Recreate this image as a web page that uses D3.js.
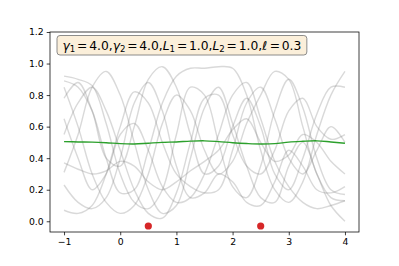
<!DOCTYPE html>
<html>
<head>
<meta charset="utf-8">
<script src="https://cdn.jsdelivr.net/npm/d3@7"></script>
<style>
  body { margin: 0; background: #fff; }
  svg { font-family: "DejaVu Sans", sans-serif; }
</style>
</head>
<body>
<script>
// sample grid and data
let xGrid = [-1, -0.75, -0.5, -0.25, 0, 0.25, 0.5, 0.75, 1, 1.25, 1.5, 1.75, 2, 2.25, 2.5, 2.75, 3, 3.25, 3.5, 3.75, 4];

let sample1 = [0.92, 0.90, 0.86, 0.62, 0.30, 0.12, 0.08, 0.20, 0.55, 0.85, 0.80, 0.50, 0.22, 0.15, 0.35, 0.70, 0.90, 0.72, 0.40, 0.20, 0.17];
let sample2 = [0.89, 0.85, 0.70, 0.40, 0.18, 0.20, 0.45, 0.75, 0.92, 0.97, 0.97, 0.98, 0.97, 0.80, 0.45, 0.20, 0.12, 0.25, 0.55, 0.80, 0.95];
let sample3 = [0.85, 0.60, 0.30, 0.12, 0.05, 0.10, 0.30, 0.62, 0.80, 0.70, 0.45, 0.30, 0.38, 0.62, 0.80, 0.95, 0.90, 0.60, 0.30, 0.15, 0.13];
let sample4 = [0.78, 0.88, 0.70, 0.40, 0.35, 0.60, 0.90, 0.98, 0.85, 0.55, 0.30, 0.35, 0.60, 0.78, 0.60, 0.30, 0.20, 0.40, 0.68, 0.85, 0.85];
let sample5 = [0.37, 0.33, 0.30, 0.32, 0.38, 0.35, 0.25, 0.20, 0.25, 0.32, 0.38, 0.45, 0.58, 0.65, 0.50, 0.38, 0.42, 0.55, 0.50, 0.38, 0.30];
let sample6 = [0.31, 0.55, 0.85, 0.95, 0.80, 0.50, 0.20, 0.05, 0.10, 0.40, 0.72, 0.85, 0.62, 0.35, 0.15, 0.12, 0.35, 0.50, 0.30, 0.10, 0.00];
let sample7 = [0.23, 0.12, 0.08, 0.15, 0.40, 0.75, 0.88, 0.70, 0.35, 0.15, 0.18, 0.30, 0.25, 0.12, 0.10, 0.25, 0.45, 0.35, 0.20, 0.18, 0.22];
let sample8 = [0.07, 0.05, 0.10, 0.30, 0.60, 0.82, 0.75, 0.50, 0.30, 0.22, 0.18, 0.20, 0.45, 0.75, 0.85, 0.65, 0.40, 0.30, 0.45, 0.60, 0.50];
let sample9 = [0.55, 0.75, 0.85, 0.70, 0.45, 0.20, 0.05, 0.02, 0.18, 0.50, 0.78, 0.80, 0.55, 0.35, 0.30, 0.45, 0.70, 0.78, 0.60, 0.52, 0.55];
let sample10 = [0.65, 0.40, 0.20, 0.30, 0.55, 0.62, 0.45, 0.22, 0.12, 0.15, 0.30, 0.55, 0.80, 0.88, 0.65, 0.38, 0.22, 0.12, 0.08, 0.10, 0.13];
let samples = [sample1, sample2, sample3, sample4, sample5, sample6, sample7, sample8, sample9, sample10];

let meanLine = [0.505, 0.503, 0.502, 0.498, 0.492, 0.490, 0.495, 0.500, 0.503, 0.508, 0.510, 0.505, 0.498, 0.493, 0.490, 0.492, 0.502, 0.507, 0.510, 0.503, 0.495];

let obsX = [0.5, 2.5];
let obsY = [-0.03, -0.03];

let xTicks = [-1, 0, 1, 2, 3, 4];
let yTicks = [0.0, 0.2, 0.4, 0.6, 0.8, 1.0, 1.2];

let SvgWidth = 399;
let SvgHeight = 266;
let Margin = { Top: 32, Right: 40, Bottom: 34, Left: 50 };
let ChartWidth = SvgWidth - Margin.Left - Margin.Right;
let ChartHeight = SvgHeight - Margin.Top - Margin.Bottom;

let Svg = d3.select("body").append("svg")
    .attr("width", SvgWidth)
    .attr("height", SvgHeight);

let ChartGroup = Svg.append("g")
    .attr("transform", `translate(${Margin.Left},${Margin.Top})`);

let xScale = d3.scaleLinear().domain([-1.25, 4.25]).range([0, ChartWidth]);
let yScale = d3.scaleLinear().domain([-0.068, 1.2]).range([ChartHeight, 0]);

let line = d3.line()
    .x((d, i) => xScale(xGrid[i]))
    .y(d => yScale(d))
    .curve(d3.curveCatmullRom.alpha(0.5));

ChartGroup.append("defs").append("clipPath").attr("id", "clip")
    .append("rect").attr("width", ChartWidth).attr("height", ChartHeight);

let plot = ChartGroup.append("g").attr("clip-path", "url(#clip)");

plot.selectAll(".sample")
    .data(samples)
    .enter()
    .append("path")
    .attr("class", "sample")
    .attr("d", d => line(d))
    .attr("fill", "none")
    .attr("stroke", "#808080")
    .attr("stroke-opacity", 0.3)
    .attr("stroke-width", 1.4);

plot.append("path")
    .attr("d", line(meanLine))
    .attr("fill", "none")
    .attr("stroke", "#2ca02c")
    .attr("stroke-width", 1.4);

plot.selectAll(".obs")
    .data(obsX)
    .enter()
    .append("circle")
    .attr("cx", d => xScale(d))
    .attr("cy", (d, i) => yScale(obsY[i]))
    .attr("r", 3.6)
    .attr("fill", "#d62728");

// axes
let xAxis = d3.axisBottom(xScale).tickValues(xTicks).tickSize(3.3).tickPadding(3)
    .tickFormat(d => d < 0 ? "\u2212" + Math.abs(d) : d);
let yAxis = d3.axisLeft(yScale).tickValues(yTicks).tickSize(3.3).tickPadding(3)
    .tickFormat(d3.format(".1f"));

let gx = ChartGroup.append("g")
    .attr("transform", `translate(0,${ChartHeight})`)
    .call(xAxis);
let gy = ChartGroup.append("g").call(yAxis);

[gx, gy].forEach(g => {
    g.select(".domain").remove();
    g.selectAll("line").attr("stroke", "#000").attr("stroke-width", 0.75);
    g.selectAll("text").attr("font-size", "9.3px").attr("fill", "#000")
        .attr("font-family", "DejaVu Sans");
});

ChartGroup.append("rect")
    .attr("width", ChartWidth)
    .attr("height", ChartHeight)
    .attr("fill", "none")
    .attr("stroke", "#000")
    .attr("stroke-width", 0.75);

// parameter box
let parts = [
    ["\u03b3", "i"], ["1", "s"], ["=", "e"], ["4.0,", "n"],
    ["\u03b3", "i"], ["2", "s"], ["=", "e"], ["4.0,", "n"],
    ["L", "i"], ["1", "s"], ["=", "e"], ["1.0,", "n"],
    ["L", "i"], ["2", "s"], ["=", "e"], ["1.0,", "n"],
    ["\u2113", "i"], ["=", "e"], ["0.3", "n"]
];

let baseY = 17.7;
let boxG = ChartGroup.append("g");
let boxRect = boxG.append("rect");
let label = boxG.append("text")
    .attr("x", 12.5)
    .attr("y", baseY)
    .attr("font-size", "12.3px")
    .attr("fill", "#000");

parts.forEach((p, i) => {
    let t = label.append("tspan").text(p[0]).attr("y", baseY);
    if (p[1] === "i") t.attr("font-style", "italic");
    if (p[1] === "s") t.attr("font-size", "8.6px").attr("y", baseY + 2.6);
    if (p[1] === "e") t.attr("dx", 1.8);
    if (p[1] === "n" && i > 0 && parts[i - 1][1] === "e") t.attr("dx", 1.8);
    if (p[1] === "e" && i > 0 && parts[i - 1][1] === "i") t.attr("dx", 2.4);
});

let bb = label.node().getBBox();
boxRect
    .attr("x", 7)
    .attr("y", 3.5)
    .attr("width", bb.width + 11)
    .attr("height", 19.5)
    .attr("rx", 3)
    .attr("fill", "#fbefda")
    .attr("stroke", "#808080")
    .attr("stroke-width", 0.9);
</script>
</body>
</html>
